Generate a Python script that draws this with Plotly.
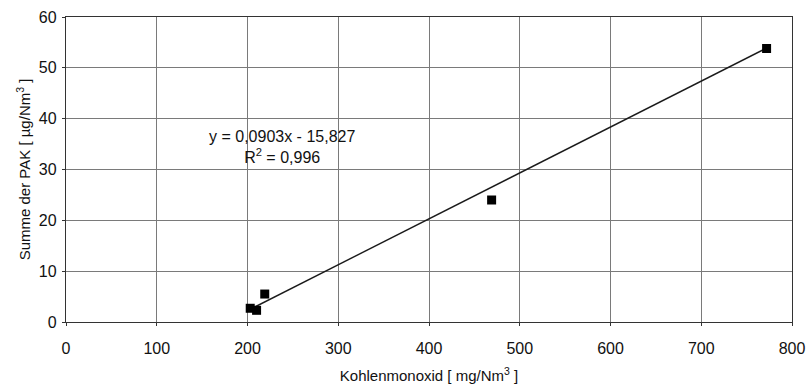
import plotly.graph_objects as go

# Measured samples: carbon monoxide vs. sum of PAH
co_mg_nm3 = [203, 210, 219, 469, 772]
pak_ug_nm3 = [2.7, 2.3, 5.5, 24.0, 53.8]

# Linear regression reported for the samples
slope = 0.0903
intercept = -15.827
r_squared = 0.996

x_ticks = [0, 100, 200, 300, 400, 500, 600, 700, 800]
y_ticks = [0, 10, 20, 30, 40, 50, 60]

fit_x = [min(co_mg_nm3), max(co_mg_nm3)]
fit_y = [slope * v + intercept for v in fit_x]

font_family = "Liberation Sans, Arial, sans-serif"
text_color = "#111111"

fig = go.Figure()
fig.add_trace(go.Scatter(
    x=fit_x, y=fit_y, mode="lines",
    line=dict(color="#1a1a1a", width=1.4),
    showlegend=False, hoverinfo="skip",
))
fig.add_trace(go.Scatter(
    x=co_mg_nm3, y=pak_ug_nm3, mode="markers",
    marker=dict(symbol="square", size=9, color="#000000"),
    showlegend=False,
))

eq_text = "y = 0,0903x - 15,827<br>R<sup>2</sup> = 0,996"
fig.add_annotation(
    x=238, y=34.5, xref="x", yref="y",
    text=eq_text, showarrow=False, align="center",
    font=dict(family=font_family, size=16, color=text_color),
)

fig.update_xaxes(
    range=[0, 800], tickvals=x_ticks, ticktext=[str(v) for v in x_ticks],
    showgrid=True, gridcolor="#7a7a7a", gridwidth=1,
    showline=True, linecolor="#333333", linewidth=1.3, mirror=True,
    zeroline=False, ticks="outside", ticklen=3, tickcolor="#333333",
    ticklabelstandoff=9, automargin=False,
    tickfont=dict(family=font_family, size=16, color=text_color),
    title=dict(text="Kohlenmonoxid [ mg/Nm<sup>3</sup> ]",
               font=dict(family=font_family, size=15, color=text_color),
               standoff=14),
)
fig.update_yaxes(
    range=[0, 60], tickvals=y_ticks, ticktext=[str(v) for v in y_ticks],
    showgrid=True, gridcolor="#7a7a7a", gridwidth=1,
    showline=True, linecolor="#333333", linewidth=1.3, mirror=True,
    zeroline=False, ticks="outside", ticklen=3, tickcolor="#333333",
    ticklabelstandoff=2, automargin=False,
    tickfont=dict(family=font_family, size=16, color=text_color),
    title=dict(text="Summe der PAK [ µg/Nm<sup>3</sup> ]",
               font=dict(family=font_family, size=15, color=text_color),
               standoff=4),
)

fig.update_layout(
    width=809, height=392,
    margin=dict(l=66, r=17, t=17, b=70),
    paper_bgcolor="white", plot_bgcolor="white",
)

fig.write_html("out.html")
